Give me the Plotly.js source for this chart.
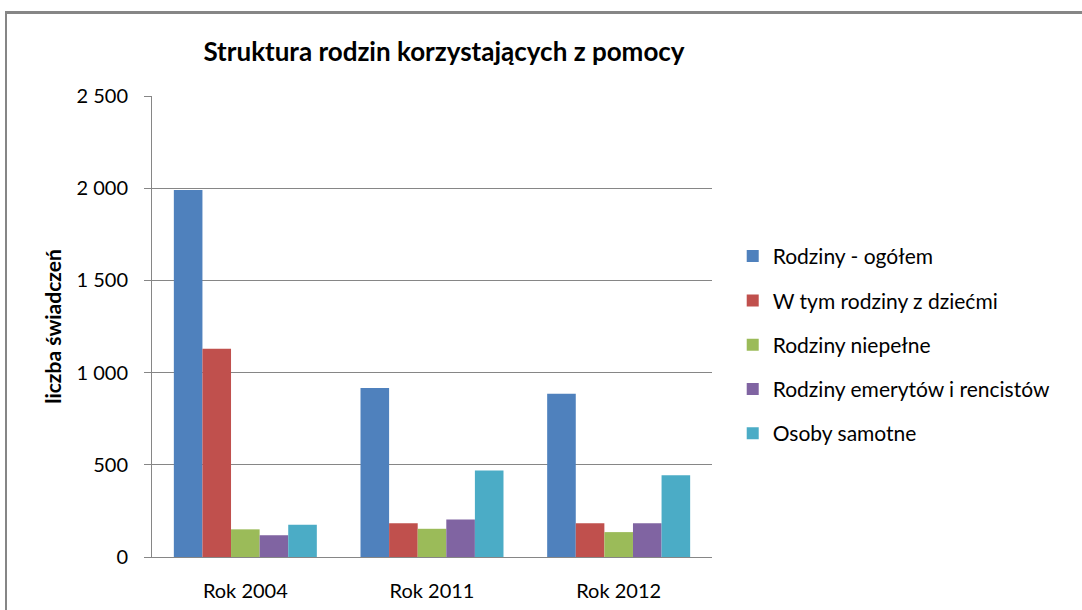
<!DOCTYPE html>
<html>
<head>
<meta charset="utf-8">
<script src="https://cdn.plot.ly/plotly-3.0.1.min.js"></script>
<style>
  html, body { margin: 0; padding: 0; background: #ffffff; overflow: hidden; }
  #wrap { position: relative; width: 1082px; height: 610px; }
  #chart { position: absolute; left: 0; top: 0; width: 1082px; height: 610px; }
  #frame { position: absolute; left: 5px; top: 11px; width: 1200px; height: 700px;
           border-top: 3px solid #868686; border-left: 2px solid #868686; pointer-events: none; }
</style>
</head>
<body>
<div id="wrap">
  <div id="chart"></div>
  <div id="frame"></div>
</div>
<script>
const categories = ["Rok 2004", "Rok 2011", "Rok 2012"];
const seriesNames = [
  "Rodziny - ogółem",
  "W tym rodziny z dziećmi",
  "Rodziny niepełne",
  "Rodziny emerytów i rencistów",
  "Osoby samotne"
];
const rodzinyOgolem = [1990, 916, 885];
const rodzinyZDziecmi = [1130, 183, 183];
const rodzinyNiepelne = [150, 153, 135];
const rodzinyEmerytow = [118, 203, 183];
const osobySamotne = [175, 469, 444];
const seriesValues = [rodzinyOgolem, rodzinyZDziecmi, rodzinyNiepelne, rodzinyEmerytow, osobySamotne];
const colors = ["#4F81BD", "#C0504D", "#9BBB59", "#8064A2", "#4BACC6"];

const FONT = "Lato, 'Open Sans', sans-serif";

const traces = seriesNames.map((name, i) => ({
  type: "bar",
  name: name,
  x: categories,
  y: seriesValues[i],
  marker: { color: colors[i], line: { width: 0 } },
  legendgroup: "g" + i,
  hoverinfo: "x+y+name"
}));

const layout = {
  width: 1082,
  height: 610,
  margin: { l: 152, r: 370, t: 96, b: 53, pad: 0 },
  paper_bgcolor: "rgba(0,0,0,0)",
  plot_bgcolor: "#ffffff",
  separators: ", ",
  barmode: "group",
  bargap: 0.234,
  bargroupgap: 0,
  font: { family: FONT, color: "#000000" },
  title: {
    text: "<b>Struktura rodzin korzystających z pomocy</b>",
    font: { family: FONT, size: 26, color: "#000000" },
    x: 444 / 1082, xref: "container", xanchor: "center",
    y: 1 - 52 / 610, yref: "container", yanchor: "middle"
  },
  xaxis: {
    type: "category",
    showgrid: false,
    showline: true,
    linecolor: "#868686",
    linewidth: 1,
    ticks: "",
    tickfont: { family: FONT, size: 20, color: "#000000" },
    ticklabelstandoff: 16
  },
  yaxis: {
    range: [0, 2500],
    tickvals: [0, 500, 1000, 1500, 2000, 2500],
    tickformat: ",d",
    showgrid: true,
    gridcolor: "#868686",
    gridwidth: 1,
    zeroline: false,
    showline: true,
    linecolor: "#868686",
    linewidth: 1,
    ticks: "outside",
    ticklen: 7,
    tickcolor: "#868686",
    tickfont: { family: FONT, size: 20, color: "#000000" },
    ticklabelstandoff: 12,
    title: {
      text: "<b>liczba świadczeń</b>",
      font: { family: FONT, size: 21, color: "#000000" },
      standoff: 9
    }
  },
  legend: {
    x: 1.037, xanchor: "left",
    y: 0.46, yanchor: "middle",
    font: { family: FONT, size: 21, color: "#000000" },
    traceorder: "grouped",
    tracegroupgap: 14,
    bgcolor: "rgba(0,0,0,0)",
    itemclick: false
  },
  showlegend: true
};

Plotly.newPlot("chart", traces, layout, { displayModeBar: false, staticPlot: true });
</script>
</body>
</html>
